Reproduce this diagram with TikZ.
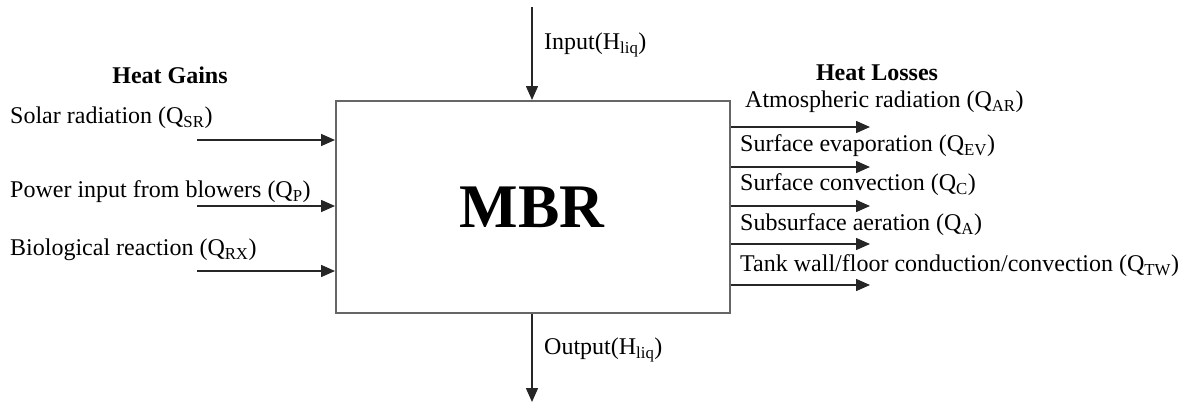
\documentclass[tikz,border=0pt]{standalone}
\usepackage{fontspec}
\setmainfont{Liberation Serif}
\usetikzlibrary{arrows.meta}
\begin{document}
\begin{tikzpicture}[x=1pt,y=-1pt,
  lbl/.style={anchor=west,inner sep=0pt,font=\fontsize{24}{28}\selectfont},
  hdr/.style={inner sep=0pt,font=\fontsize{24}{28}\selectfont\bfseries},
  flow/.style={draw=black!85,line width=1.5pt,-{Triangle[length=14pt,width=12pt]}}]
\useasboundingbox (0,0) rectangle (1197,405);
\node[draw=black!60,line width=2pt,minimum width=394pt,minimum height=212pt,anchor=north west,inner sep=0pt] (mbr) at (335,100) {};
\node[font=\fontsize{62}{62}\selectfont\bfseries] (t) at (532,207) {MBR};
% input/output
\coordinate (inS) at (532,7);
\coordinate (outE) at (532,402);
\draw[flow] (inS) -- (mbr.north -| inS);
\draw[flow] (mbr.south -| outE) -- (outE);
\node[lbl] (inl) at (544,45) {Input(H\textsubscript{liq})};
\node[lbl] (outl) at (544,350) {Output(H\textsubscript{liq})};
% gains
\node[hdr] (hg) at (170,75) {Heat Gains};
\node[lbl] (g1) at (10,118) {Solar radiation (Q\textsubscript{SR})};
\node[lbl] (g2) at (10,192) {Power input from blowers (Q\textsubscript{P})};
\node[lbl] (g3) at (10,250) {Biological reaction (Q\textsubscript{RX})};
\foreach \y/\n in {140/a,206/b,271/c}{
  \coordinate (gs\n) at (197,\y);
  \draw[flow] (gs\n) -- (gs\n -| mbr.west);
}
% losses
\node[hdr] (hl) at (877,73) {Heat Losses};
\node[lbl] (l1) at (745,102) {Atmospheric radiation (Q\textsubscript{AR})};
\node[lbl] (l2) at (740,146) {Surface evaporation (Q\textsubscript{EV})};
\node[lbl] (l3) at (740,185) {Surface convection (Q\textsubscript{C})};
\node[lbl] (l4) at (740,225) {Subsurface aeration (Q\textsubscript{A})};
\node[lbl] (l5) at (740,266) {Tank wall/floor conduction/convection (Q\textsubscript{TW})};
\foreach \y/\n in {127/a,167/b,206/c,244/d,285/e}{
  \coordinate (le\n) at (870,\y);
  \draw[flow] (le\n -| mbr.east) -- (le\n);
}
\end{tikzpicture}
\end{document}
